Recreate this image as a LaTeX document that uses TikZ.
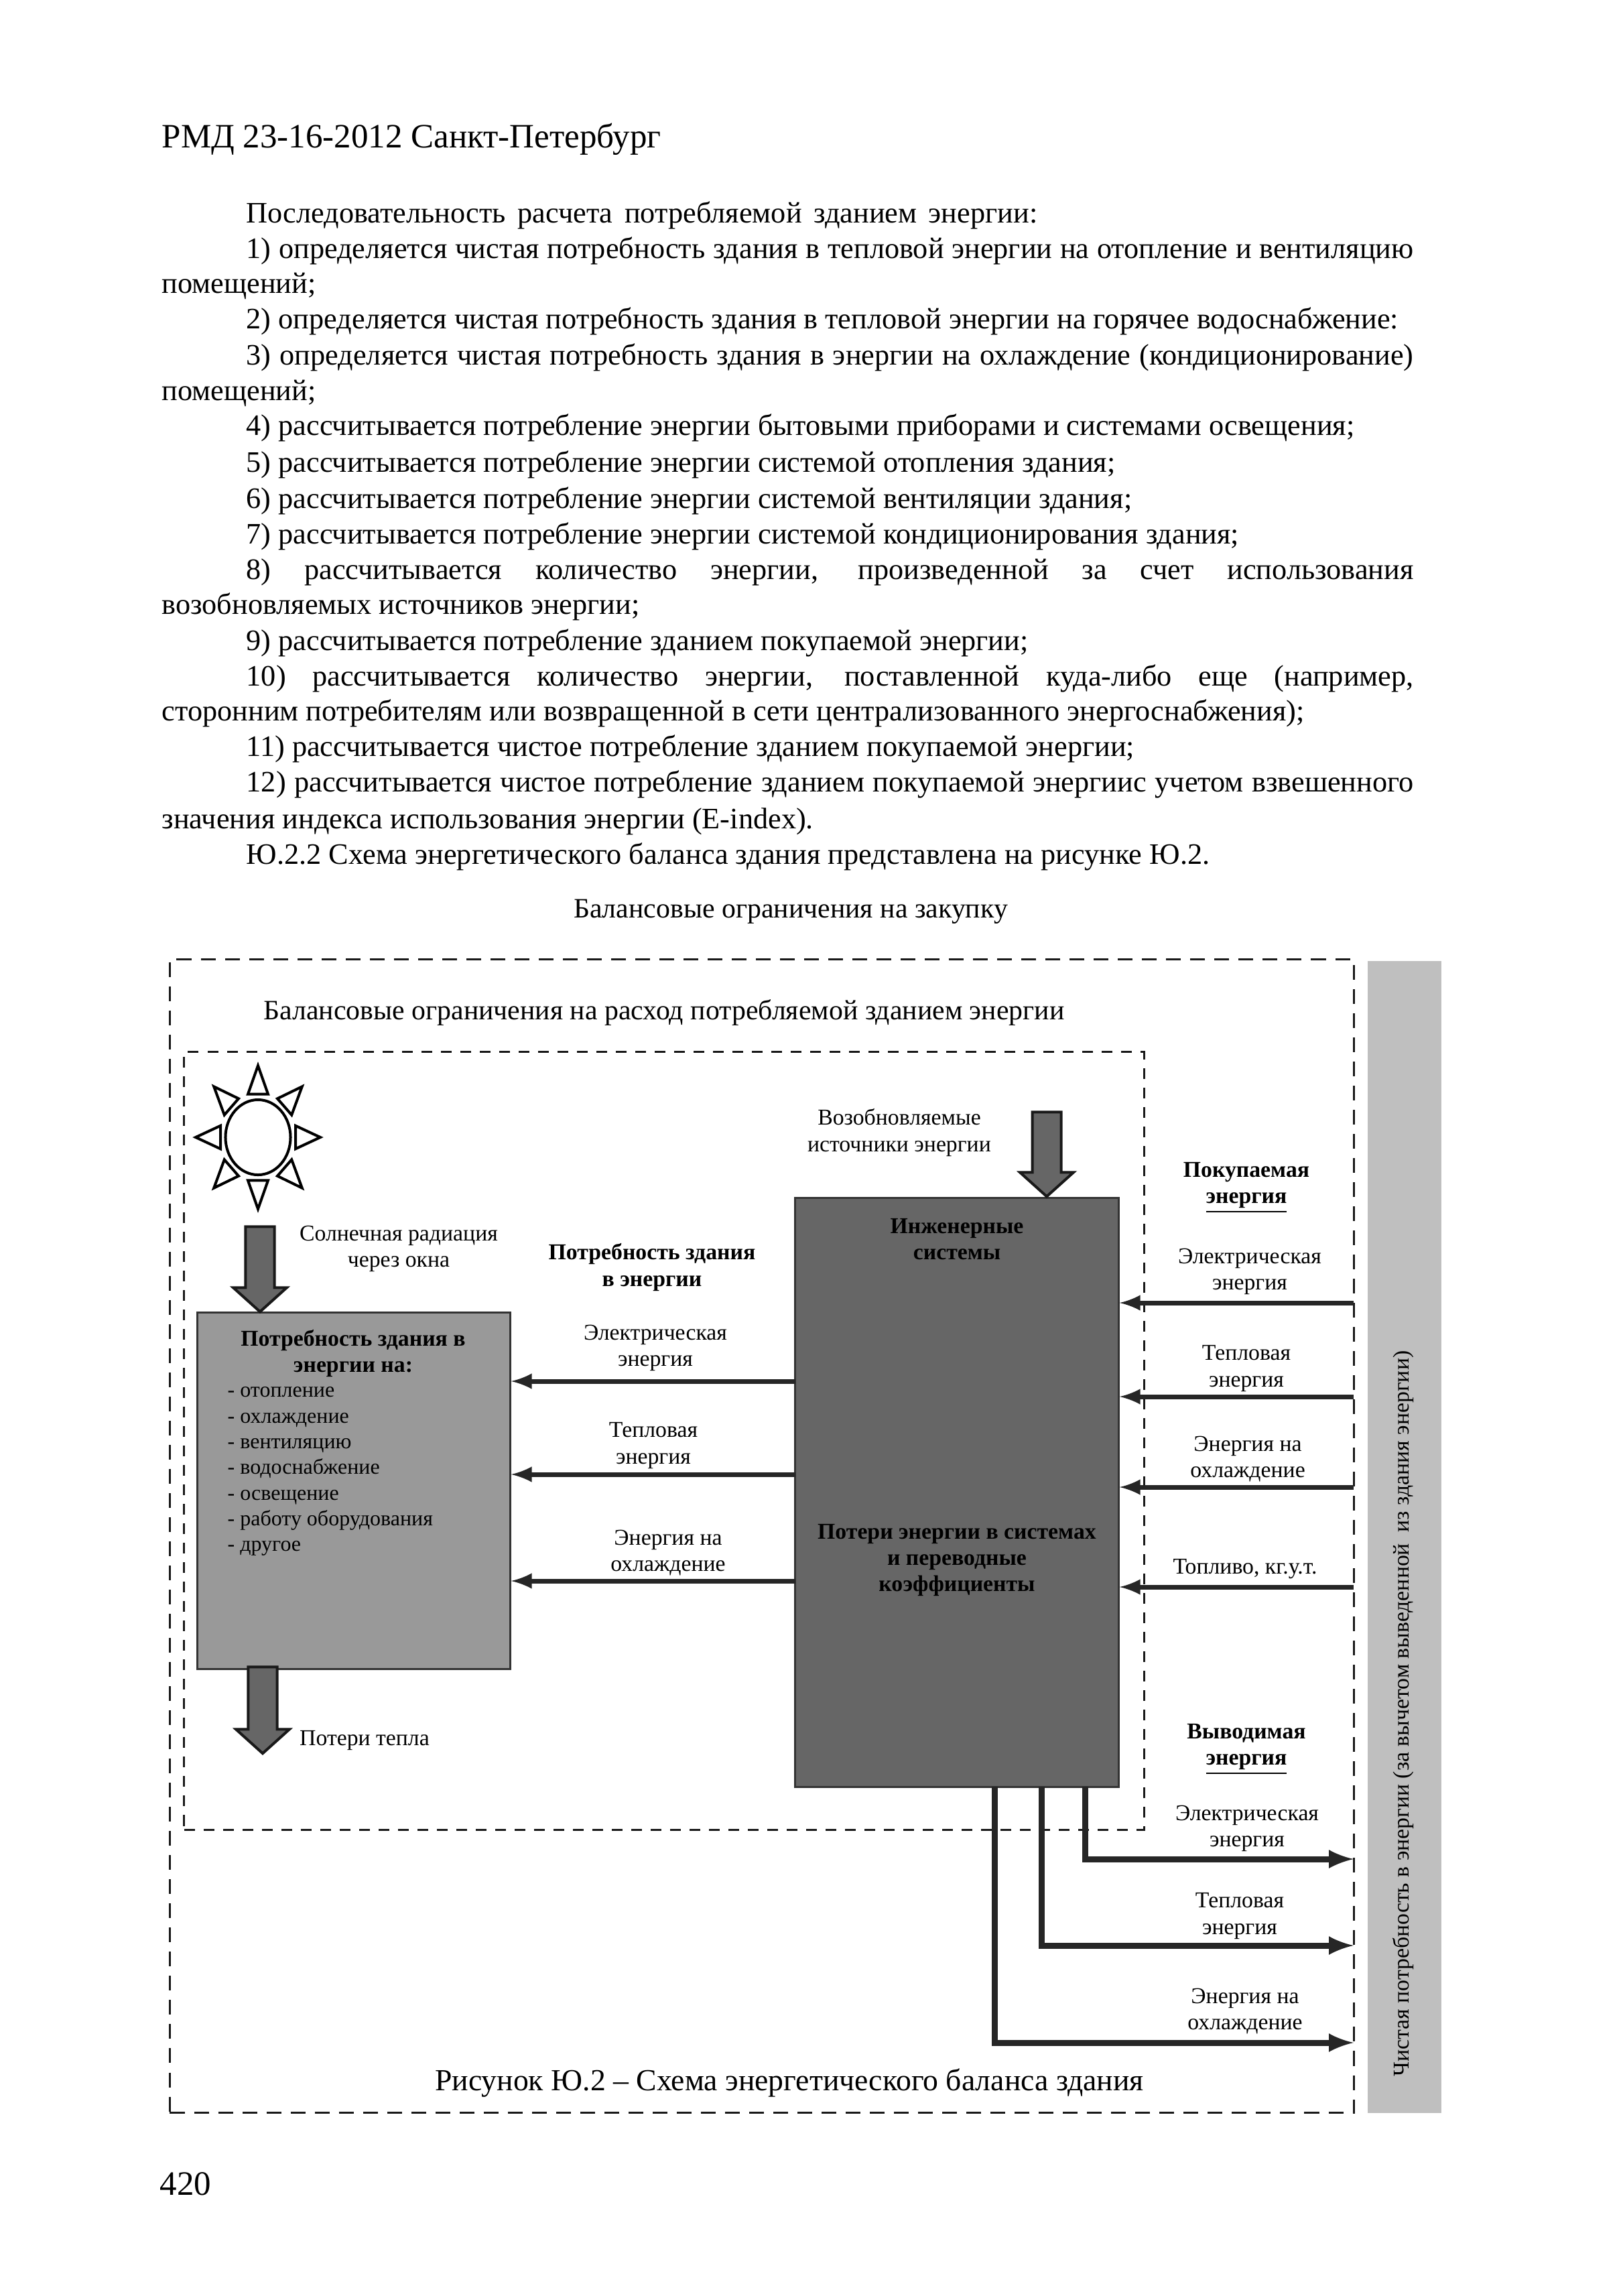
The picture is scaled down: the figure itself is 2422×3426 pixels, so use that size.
\documentclass[tikz,border=0pt]{standalone}
\usepackage{fontspec}
\setmainfont{Liberation Serif}
\usetikzlibrary{arrows, positioning, shapes.geometric, shapes.arrows}
\newcommand{\jline}[2][17.43cm]{\makebox[#1][s]{#2}}
\newcommand{\heavyunder}[1]{\vtop{\hbox{#1}\kern1pt\hrule height 0.8pt}}

\begin{document}
\begin{tikzpicture}[x=0.01cm, y=-0.01cm]
	\tikzstyle{pageline} = [anchor=base west, inner sep=0pt, font=\fontsize{12.6}{15}\selectfont]
	\tikzstyle{lbl} = [align=center, inner sep=0pt, font=\fontsize{9.6}{11.1}\selectfont]
	\tikzstyle{boldlbl} = [lbl, font=\fontsize{9.6}{11.1}\selectfont\bfseries]
	\tikzstyle{title} = [inner sep=0pt, font=\fontsize{11.9}{14}\selectfont]
	\tikzstyle{flow} = [-latex, line width=0.07cm, black!85]
	\tikzstyle{outflow} = [-latex, line width=0.09cm, black!85]
	\tikzstyle{block} = [draw=black!80, line width=0.03cm, inner sep=0pt]
	\tikzstyle{bigarrow} = [draw=black!90, fill=black!60, line width=0.04cm, single arrow, shape border rotate=270, inner sep=0pt, anchor=tip, text width=0.39cm, minimum width=0.76cm, single arrow head extend=0.185cm, single arrow tip angle=96]
	\tikzstyle{ray} = [draw, line width=0.04cm, fill=white]
	\useasboundingbox (0,0) rectangle (2422,3426);

	% page text
	\node (head) [pageline, font=\fontsize{14.5}{17}\selectfont] at (241,220) {РМД 23-16-2012 Санкт-Петербург};
	\node (p0) [pageline] at (367,332) {\jline[11.8cm]{Последовательность расчета потребляемой зданием энергии:}};
	\node (p1) [pageline] at (367,385) {\jline[17.41cm]{1) определяется чистая потребность здания в тепловой энергии на отопление и вентиляцию}};
	\node (p1b) [pageline] at (241,437) {помещений;};
	\node (p2) [pageline] at (367,490) {2) определяется чистая потребность здания в тепловой энергии на горячее водоснабжение:};
	\node (p3) [pageline] at (367,544) {\jline[17.41cm]{3) определяется чистая потребность здания в энергии на охлаждение (кондиционирование)}};
	\node (p3b) [pageline] at (241,597) {помещений;};
	\node (p4) [pageline] at (367,649) {4) рассчитывается потребление энергии бытовыми приборами и системами освещения;};
	\node (p5) [pageline] at (367,704) {5) рассчитывается потребление энергии системой отопления здания;};
	\node (p6) [pageline] at (367,758) {6) рассчитывается потребление энергии системой вентиляции здания;};
	\node (p7) [pageline] at (367,811) {7) рассчитывается потребление энергии системой кондиционирования здания;};
	\node (p8) [pageline] at (367,864) {\jline[17.41cm]{8) рассчитывается количество энергии, произведенной за счет использования}};
	\node (p8b) [pageline] at (241,916) {возобновляемых источников энергии;};
	\node (p9) [pageline] at (367,970) {9) рассчитывается потребление зданием покупаемой энергии;};
	\node (p10) [pageline] at (367,1023) {\jline[17.41cm]{10) рассчитывается количество энергии, поставленной куда-либо еще (например,}};
	\node (p10b) [pageline] at (241,1075) {сторонним потребителям или возвращенной в сети централизованного энергоснабжения);};
	\node (p11) [pageline] at (367,1128) {11) рассчитывается чистое потребление зданием покупаемой энергии;};
	\node (p12) [pageline] at (367,1181) {\jline[17.41cm]{12) рассчитывается чистое потребление зданием покупаемой энергиис учетом взвешенного}};
	\node (p12b) [pageline] at (241,1236) {значения индекса использования энергии (E-index).};
	\node (p13) [pageline] at (367,1289) {Ю.2.2 Схема энергетического баланса здания представлена на рисунке Ю.2.};
	\node (pagenum) [pageline, font=\fontsize{14.5}{17}\selectfont] at (238,3275) {420};

	% boxes
	\node (bar) [fill=black!25, minimum width=1.09cm, minimum height=17.18cm, inner sep=0pt] at (2096,2293) {};
	\node (sidetext) [lbl, rotate=90] at (2094,2557) {Чистая потребность в энергии (за вычетом выведенной\ \ из здания энергии)};
	\node (need) [block, fill=black!40, minimum width=4.66cm, minimum height=5.31cm] at (528,2224.5) {};
	\node (sys) [block, fill=black!60, minimum width=4.82cm, minimum height=8.78cm] at (1428,2227) {};
	\node (outer) [draw, black!90, line width=0.035cm, dash pattern=on 0.22cm off 0.14cm, minimum width=17.66cm, minimum height=17.2cm, inner sep=0pt] at (1137,2292) {};
	\node (inner) [draw, black!90, line width=0.03cm, dash pattern=on 0.16cm off 0.13cm, minimum width=14.32cm, minimum height=11.6cm, inner sep=0pt] at (991,2150) {};

	% sun
	\node (sun) [draw, ellipse, line width=0.04cm, minimum width=0.97cm, minimum height=1.12cm, inner sep=0pt] at (385,1697) {};
	\foreach \a in {0,45,...,315} {
		\begin{scope}[shift={(sun.center)}, yscale=1.15, rotate=\a]
			\draw[ray] (93,0) -- (56,15) -- (56,-15) -- cycle;
		\end{scope}
	}

	% block arrows
	\node (solar) [bigarrow, minimum height=1.27cm] at (388,1960) {};
	\node (renew) [bigarrow, minimum height=1.26cm] at (1562,1788) {};
	\node (loss) [bigarrow, minimum height=1.29cm] at (392,2619) {};

	% demand side
	\coordinate (demel) at (1187,2061);
	\coordinate (demheat) at (1187,2200);
	\coordinate (demcool) at (1187,2359);
	\draw[flow] (demel) -- (demel -| need.east);
	\draw[flow] (demheat) -- (demheat -| need.east);
	\draw[flow] (demcool) -- (demcool -| need.east);

	% bought energy
	\coordinate (buyel) at (2020,1944);
	\coordinate (buyheat) at (2020,2084);
	\coordinate (buycool) at (2020,2219);
	\coordinate (buyfuel) at (2020,2368);
	\draw[flow] (buyel) -- (buyel -| sys.east);
	\draw[flow] (buyheat) -- (buyheat -| sys.east);
	\draw[flow] (buycool) -- (buycool -| sys.east);
	\draw[flow] (buyfuel) -- (buyfuel -| sys.east);

	% exported energy
	\coordinate (tapel) at (1619,2666);
	\coordinate (tapheat) at (1554,2666);
	\coordinate (tapcool) at (1484,2666);
	\coordinate (outel) at (2020,2774);
	\coordinate (outheat) at (2020,2903);
	\coordinate (outcool) at (2020,3048);
	\draw[outflow] (tapel) |- (outel);
	\draw[outflow] (tapheat) |- (outheat);
	\draw[outflow] (tapcool) |- (outcool);

	% labels
	\node (topcap) [title] at (1180,1360) {Балансовые ограничения на закупку};
	\node (limcap) [title] at (991,1511) {Балансовые ограничения на расход потребляемой зданием энергии};
	\node (figcap) [title, font=\fontsize{13}{15}\selectfont] at (1178,3108) {Рисунок Ю.2 -- Схема энергетического баланса здания};
	\node (renewl) [lbl] at (1342,1690) {Возобновляемые\\источники энергии};
	\node (solarl) [lbl] at (595,1863) {Солнечная радиация\\через окна};
	\node (lossl) [lbl] at (544,2597) {Потери тепла};
	\node (needhead) [boldlbl] at (973,1891) {Потребность здания\\в энергии};
	\node (demell) [lbl] at (978,2011) {Электрическая\\энергия};
	\node (demheatl) [lbl] at (975,2157) {Тепловая\\энергия};
	\node (demcooll) [lbl] at (997,2317) {Энергия на\\охлаждение};
	\node (needtitle) [boldlbl] at (527,2019) {Потребность здания в\\энергии на:};
	\node (needlist) [lbl, align=left, anchor=north west, font=\fontsize{9.1}{10.9}\selectfont] at (339,2069) {- отопление\\- охлаждение\\- вентиляцию\\- водоснабжение\\- освещение\\- работу оборудования\\- другое};
	\node (systitle) [boldlbl] at (1428,1849) {Инженерные\\системы};
	\node (lossesl) [boldlbl] at (1428,2328) {Потери энергии в системах\\и переводные\\коэффициенты};
	\node (buyhead) [boldlbl] at (1860,1772) {Покупаемая\\\heavyunder{энергия}};
	\node (buyell) [lbl] at (1865,1897) {Электрическая\\энергия};
	\node (buyheatl) [lbl] at (1860,2042) {Тепловая\\энергия};
	\node (buycooll) [lbl] at (1862,2177) {Энергия на\\охлаждение};
	\node (buyfuell) [lbl] at (1858,2341) {Топливо, кг.у.т.};
	\node (outhead) [boldlbl] at (1860,2610) {Выводимая\\\heavyunder{энергия}};
	\node (outell) [lbl] at (1861,2728) {Электрическая\\энергия};
	\node (outheatl) [lbl] at (1850,2859) {Тепловая\\энергия};
	\node (outcooll) [lbl] at (1858,3001) {Энергия на\\охлаждение};
\end{tikzpicture}
\end{document}
